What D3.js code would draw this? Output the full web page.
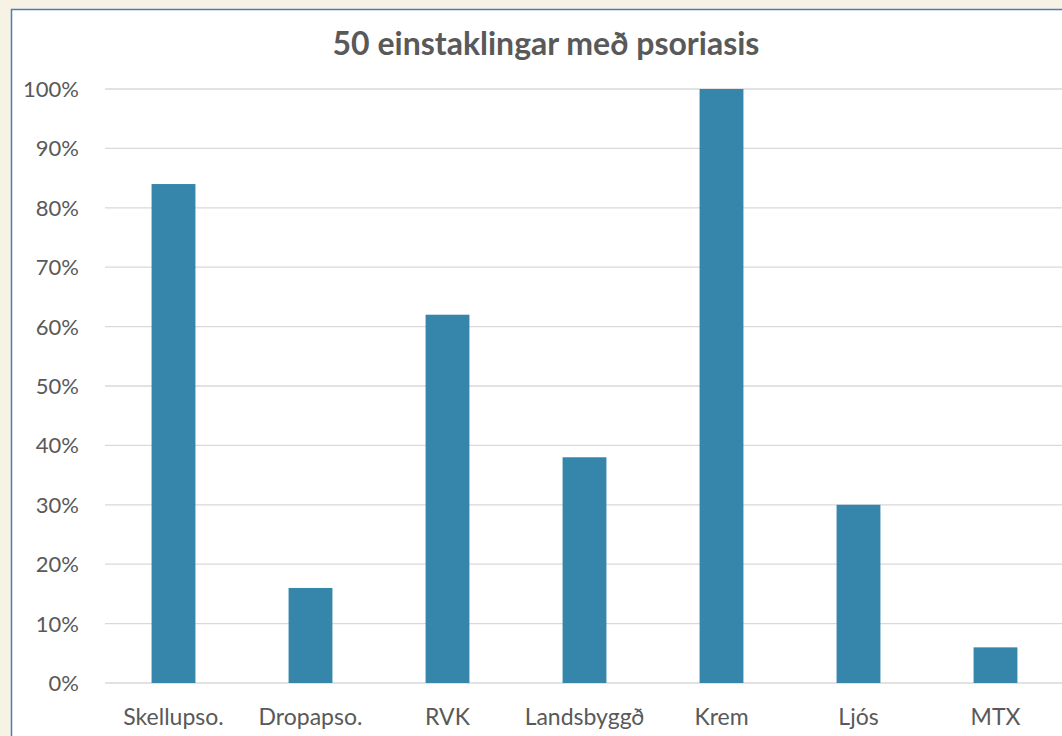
<!DOCTYPE html>
<html>
<head>
<meta charset="utf-8">
<script src="https://cdn.jsdelivr.net/npm/d3@7"></script>
<style>
  body { margin: 0; background: #f6f2e4; overflow: hidden; }
  svg { display: block; }
</style>
</head>
<body>
<svg id="chart" width="1062" height="736"></svg>
<script>
const categories = ["Skellupso.", "Dropapso.", "RVK", "Landsbyggð", "Krem", "Ljós", "MTX"];
const values = [84, 16, 62, 38, 100, 30, 6];
const yTicks = [0, 10, 20, 30, 40, 50, 60, 70, 80, 90, 100];
const title = "50 einstaklingar með psoriasis";

const svg = d3.select("#chart");
const font = "Lato, 'Open Sans', sans-serif";

// white chart panel with a blue edge
svg.append("rect")
  .attr("x", 11.5).attr("y", 9.5)
  .attr("width", 1062).attr("height", 740)
  .attr("fill", "#fff")
  .attr("stroke", "#4a7ebb")
  .attr("stroke-width", 1.5);

const plotLeft = 105, plotRight = 1064, plotTop = 89, plotBottom = 683;

const x = d3.scaleBand()
  .domain(categories)
  .range([plotLeft, plotRight])
  .paddingInner(0.68)
  .paddingOuter(0.34);

const y = d3.scaleLinear().domain([0, 100]).range([plotBottom, plotTop]);

// gridlines
svg.append("g")
  .selectAll("line")
  .data(yTicks)
  .join("line")
  .attr("x1", plotLeft).attr("x2", plotRight)
  .attr("y1", d => y(d)).attr("y2", d => y(d))
  .attr("stroke", "#d9d9d9")
  .attr("stroke-width", 1.3);

// y axis labels
svg.append("g")
  .selectAll("text")
  .data(yTicks)
  .join("text")
  .attr("x", 79)
  .attr("y", d => y(d) + 8)
  .attr("text-anchor", "end")
  .attr("font-family", font)
  .attr("font-size", 22)
  .attr("fill", "#595959")
  .text(d => d + "%");

// bars
svg.append("g")
  .selectAll("rect")
  .data(values)
  .join("rect")
  .attr("x", (d, i) => x(categories[i]))
  .attr("width", x.bandwidth())
  .attr("y", d => y(d))
  .attr("height", d => plotBottom - y(d))
  .attr("fill", "#3586aa");

// x labels
svg.append("g")
  .selectAll("text")
  .data(categories)
  .join("text")
  .attr("x", d => x(d) + x.bandwidth() / 2)
  .attr("y", 725)
  .attr("text-anchor", "middle")
  .attr("font-family", font)
  .attr("font-size", 23)
  .attr("fill", "#595959")
  .text(d => d);

svg.append("text")
  .attr("x", 546)
  .attr("y", 55)
  .attr("text-anchor", "middle")
  .attr("font-family", font)
  .attr("font-weight", "bold")
  .attr("font-size", 32)
  .attr("fill", "#595959")
  .text(title);
</script>
</body>
</html>
